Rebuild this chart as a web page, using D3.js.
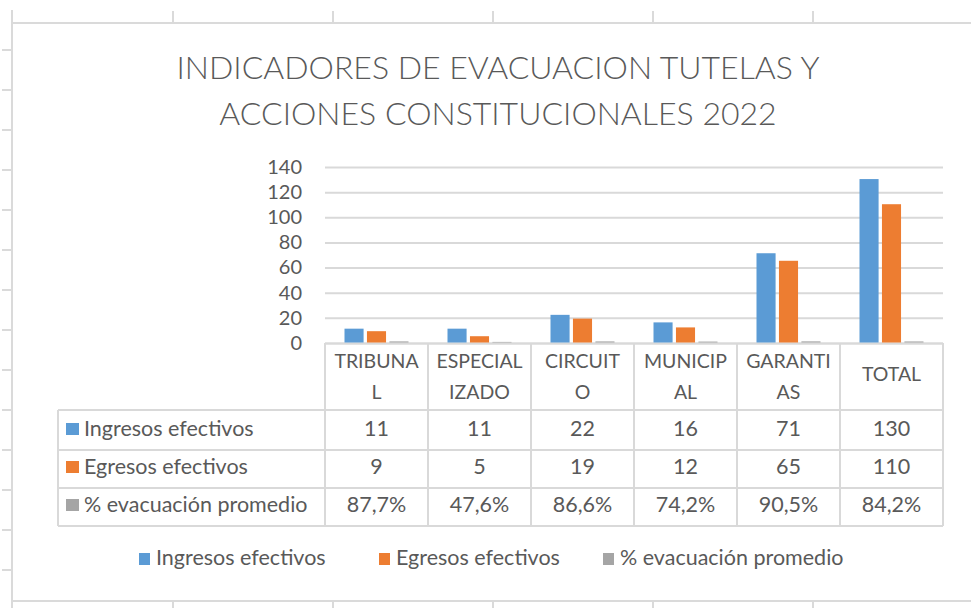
<!DOCTYPE html>
<html><head><meta charset="utf-8">
<script src="https://cdn.jsdelivr.net/npm/d3@7"></script>
<style>
html,body{margin:0;padding:0;background:#fff;}
svg{display:block;font-family:Lato, "Noto Sans", sans-serif;}
</style></head>
<body>
<svg id="chart" width="971" height="608"></svg>
<script>
// ---- data ----
const titleLines = ["INDICADORES DE EVACUACION TUTELAS Y", "ACCIONES CONSTITUCIONALES 2022"];
const categories = ["TRIBUNAL", "ESPECIALIZADO", "CIRCUITO", "MUNICIPAL", "GARANTIAS", "TOTAL"];
const categoryLines = [["TRIBUNA", "L"], ["ESPECIAL", "IZADO"], ["CIRCUIT", "O"], ["MUNICIP", "AL"], ["GARANTI", "AS"], ["TOTAL"]];
const seriesNames = ["Ingresos efectivos", "Egresos efectivos", "% evacuación promedio"];
const ingresos = [11, 11, 22, 16, 71, 130];
const egresos = [9, 5, 19, 12, 65, 110];
const evacuacion = [0.877, 0.476, 0.866, 0.742, 0.905, 0.842];
const yTicks = [0, 20, 40, 60, 80, 100, 120, 140];

const colors = ["#5B9BD5", "#ED7D31", "#A5A5A5"];
const textColor = "#595959";
const lineColor = "#D9D9D9";

const seriesValues = [ingresos, egresos, evacuacion];
const locale = d3.formatLocale({decimal: ",", thousands: ".", grouping: [3], currency: ["", ""]});
const fmtPct = locale.format(".1%");
const fmtInt = locale.format("d");
const tableText = [ingresos.map(fmtInt), egresos.map(fmtInt), evacuacion.map(fmtPct)];

const svg = d3.select("#chart");

// ---- sheet background lines ----
const sheet = svg.append("g").attr("stroke", "#DADADA").attr("stroke-width", 2);
sheet.append("line").attr("x1", 12).attr("x2", 12).attr("y1", 10).attr("y2", 608);
sheet.append("line").attr("x1", 12).attr("x2", 971).attr("y1", 23).attr("y2", 23);
sheet.append("line").attr("x1", 12).attr("x2", 971).attr("y1", 601).attr("y2", 601);
[173, 333, 493, 653, 813].forEach(x => {
  sheet.append("line").attr("x1", x).attr("x2", x).attr("y1", 11).attr("y2", 22);
  sheet.append("line").attr("x1", x).attr("x2", x).attr("y1", 602).attr("y2", 608);
});
d3.range(50, 600, 40).forEach(y => {
  sheet.append("line").attr("x1", 2).attr("x2", 11).attr("y1", y).attr("y2", y);
});

// ---- title ----
svg.append("g").selectAll("text").data(titleLines).join("text")
  .attr("x", 498).attr("y", (d, i) => 79 + i * 46)
  .attr("text-anchor", "middle")
  .attr("fill", textColor)
  .attr("font-size", 32).attr("font-weight", 300)
  .text(d => d);

// ---- scales ----
const x = d3.scaleBand().domain(categories).range([325, 943]);
const y = d3.scaleLinear().domain([0, 140]).range([343, 167]);
const x1 = d3.scaleBand().domain(seriesNames).range([19.5, 83.5]).paddingInner(0.15);

// gridlines
const grid = svg.append("g").attr("transform", "translate(325,0)")
  .call(d3.axisLeft(y).tickValues(yTicks).tickSize(-618).tickFormat(""));
grid.select(".domain").remove();
grid.selectAll("line").attr("stroke", lineColor).attr("stroke-width", 2);

// y axis labels
const yAxis = svg.append("g").attr("transform", "translate(325,0)")
  .call(d3.axisLeft(y).tickValues(yTicks).tickSize(0).tickPadding(23));
yAxis.select(".domain").remove();
yAxis.selectAll("text").attr("fill", textColor).attr("font-size", 20).attr("font-family", "Lato, sans-serif");

// ---- data table lines ----
const tbl = svg.append("g").attr("stroke", lineColor).attr("stroke-width", 2);
tbl.append("line").attr("x1", 325).attr("x2", 943).attr("y1", 343.5).attr("y2", 343.5);
[410, 450, 488, 526].forEach(yy => tbl.append("line").attr("x1", 58).attr("x2", 943).attr("y1", yy).attr("y2", yy));
tbl.append("line").attr("x1", 58).attr("x2", 58).attr("y1", 410).attr("y2", 526);
categories.forEach(c => tbl.append("line").attr("x1", x(c)).attr("x2", x(c)).attr("y1", 343).attr("y2", 526));
tbl.append("line").attr("x1", 943).attr("x2", 943).attr("y1", 343).attr("y2", 526);

// ---- bars ----
const groups = svg.append("g").selectAll("g").data(categories).join("g")
  .attr("transform", d => `translate(${x(d)},0)`);
groups.selectAll("rect")
  .data((c, ci) => seriesNames.map((s, si) => ({s, v: seriesValues[si][ci], si})))
  .join("rect")
  .attr("x", d => x1(d.s))
  .attr("width", x1.bandwidth())
  .attr("y", d => y(d.v) - 0.5)
  .attr("height", d => y(0) - y(d.v))
  .attr("fill", d => colors[d.si]);

// header labels
const hdr = svg.append("g").attr("fill", textColor).attr("font-size", 19.5).attr("text-anchor", "middle");
categoryLines.forEach((lines, i) => {
  const cx = x(categories[i]) + x.bandwidth() / 2;
  lines.forEach((ln, j) => {
    const yy = lines.length === 1 ? 374 : 361 + j * 31;
    hdr.append("text").attr("x", cx).attr("y", yy).attr("dy", "0.35em").text(ln);
  });
});

// row labels with keys
const rowCenters = [428, 466, 504];
const rows = svg.append("g");
seriesNames.forEach((s, i) => {
  rows.append("rect").attr("x", 66).attr("y", rowCenters[i] - 5).attr("width", 13).attr("height", 12).attr("fill", colors[i]);
  rows.append("text").attr("x", 84).attr("y", rowCenters[i]).attr("dy", "0.35em")
    .attr("fill", textColor).attr("font-size", 21.5).text(s);
  categories.forEach((c, ci) => {
    rows.append("text").attr("x", x(c) + x.bandwidth() / 2).attr("y", rowCenters[i]).attr("dy", "0.35em")
      .attr("text-anchor", "middle").attr("fill", textColor).attr("font-size", 21.5).text(tableText[i][ci]);
  });
});

// ---- bottom legend ----
const legendX = [139, 379, 603];
const leg = svg.append("g");
seriesNames.forEach((s, i) => {
  leg.append("rect").attr("x", legendX[i]).attr("y", 553).attr("width", 11).attr("height", 12).attr("fill", colors[i]);
  leg.append("text").attr("x", legendX[i] + 17).attr("y", 557).attr("dy", "0.35em")
    .attr("fill", textColor).attr("font-size", 21.5).text(s);
});
</script>
</body></html>
